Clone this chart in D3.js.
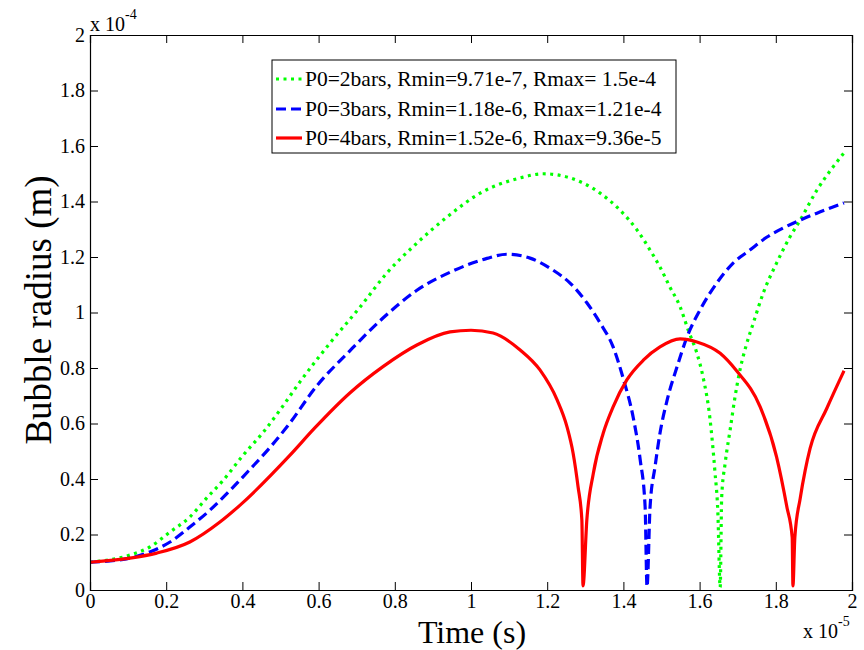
<!DOCTYPE html>
<html>
<head>
<meta charset="utf-8">
<script src="https://cdn.jsdelivr.net/npm/d3@7"></script>
<style>
  html, body { margin: 0; padding: 0; background: #fff; }
  svg { display: block; }
  svg text { font-family: "Liberation Serif", "Times New Roman", serif; }
</style>
</head>
<body>
<svg id="chart" width="864" height="650"></svg>
<script>
// Time in units of 1e-5 s, radius in units of 1e-4 m
const xTicks = [0, 0.2, 0.4, 0.6, 0.8, 1, 1.2, 1.4, 1.6, 1.8, 2];
const yTicks = [0, 0.2, 0.4, 0.6, 0.8, 1, 1.2, 1.4, 1.6, 1.8, 2];

const seriesNames = [
  "P0=2bars, Rmin=9.71e-7, Rmax= 1.5e-4",
  "P0=3bars, Rmin=1.18e-6, Rmax=1.21e-4",
  "P0=4bars, Rmin=1.52e-6, Rmax=9.36e-5"
];

const tGreen = [0, 0.105, 0.157, 0.21, 0.262, 0.306, 0.35, 0.402, 0.455, 0.499, 0.551, 0.63, 0.709, 0.779, 0.858, 0.937, 1.024, 1.129, 1.19, 1.26, 1.339, 1.391, 1.436, 1.47, 1.496, 1.522, 1.549, 1.57, 1.593, 1.609, 1.627, 1.64, 1.648, 1.654, 1.658, 1.667, 1.68, 1.693, 1.706, 1.722, 1.741, 1.767, 1.802, 1.837, 1.864, 1.908, 1.95, 1.979];
const rGreen = [0.10, 0.126, 0.155, 0.209, 0.263, 0.331, 0.396, 0.486, 0.569, 0.649, 0.75, 0.89, 1.02, 1.142, 1.25, 1.344, 1.43, 1.485, 1.5, 1.485, 1.43, 1.369, 1.297, 1.225, 1.164, 1.092, 1.02, 0.937, 0.853, 0.768, 0.62, 0.43, 0.276, 0.0097, 0.336, 0.456, 0.576, 0.696, 0.793, 0.88, 0.962, 1.07, 1.178, 1.272, 1.333, 1.441, 1.524, 1.575];

const tBlue = [0, 0.105, 0.157, 0.21, 0.262, 0.315, 0.367, 0.42, 0.472, 0.517, 0.595, 0.682, 0.769, 0.858, 0.953, 1.042, 1.094, 1.155, 1.215, 1.26, 1.304, 1.339, 1.373, 1.40, 1.426, 1.444, 1.457, 1.462, 1.47, 1.483, 1.496, 1.514, 1.541, 1.567, 1.601, 1.645, 1.688, 1.732, 1.777, 1.819, 1.864, 1.908, 1.95, 1.979];
const rBlue = [0.10, 0.115, 0.137, 0.173, 0.227, 0.288, 0.358, 0.435, 0.513, 0.588, 0.735, 0.862, 0.98, 1.08, 1.15, 1.195, 1.21, 1.196, 1.153, 1.106, 1.035, 0.962, 0.876, 0.76, 0.62, 0.47, 0.3, 0.0118, 0.3, 0.444, 0.565, 0.68, 0.805, 0.912, 1.009, 1.106, 1.178, 1.225, 1.272, 1.304, 1.333, 1.358, 1.38, 1.395];

const tRed = [0, 0.105, 0.175, 0.262, 0.341, 0.394, 0.525, 0.59, 0.682, 0.769, 0.858, 0.945, 1.0, 1.058, 1.129, 1.181, 1.226, 1.252, 1.268, 1.281, 1.291, 1.294, 1.304, 1.321, 1.347, 1.373, 1.409, 1.453, 1.496, 1.549, 1.593, 1.654, 1.697, 1.759, 1.802, 1.829, 1.843, 1.845, 1.85, 1.864, 1.877, 1.89, 1.934, 1.979];
const rRed = [0.10, 0.115, 0.133, 0.173, 0.245, 0.306, 0.486, 0.584, 0.71, 0.805, 0.883, 0.93, 0.936, 0.926, 0.865, 0.793, 0.685, 0.588, 0.493, 0.372, 0.252, 0.0152, 0.252, 0.42, 0.565, 0.66, 0.757, 0.829, 0.876, 0.905, 0.894, 0.853, 0.79, 0.66, 0.48, 0.3, 0.19, 0.0152, 0.19, 0.33, 0.43, 0.51, 0.655, 0.79];

const series = [
  { name: seriesNames[0], t: tGreen, r: rGreen, color: "#00ff00", dash: "3,4.5" },
  { name: seriesNames[1], t: tBlue,  r: rBlue,  color: "#0000ff", dash: "10,5" },
  { name: seriesNames[2], t: tRed,   r: rRed,   color: "#ff0000", dash: null }
];

const svg = d3.select("#chart");
const margin = { left: 90, top: 35, right: 852, bottom: 590 };

const x = d3.scaleLinear().domain([0, 2]).range([margin.left, margin.right]);
const y = d3.scaleLinear().domain([0, 2]).range([margin.bottom, margin.top]);

const fmt = d => (d === 0 ? "0" : d3.format("~g")(d));
const serif = '"Liberation Serif", "Times New Roman", serif';

svg.append("defs").append("clipPath").attr("id", "clip")
  .append("rect").attr("x", margin.left).attr("y", margin.top)
  .attr("width", margin.right - margin.left).attr("height", margin.bottom - margin.top);

const line = d3.line().x(d => x(d[0])).y(d => y(d[1])).curve(d3.curveMonotoneX);

const g = svg.append("g").attr("clip-path", "url(#clip)");
series.forEach(s => {
  const pts = s.t.map((tv, i) => [tv, s.r[i]]);
  g.append("path")
    .attr("d", line(pts))
    .attr("fill", "none")
    .attr("stroke", s.color)
    .attr("stroke-width", 3.2)
    .attr("stroke-dasharray", s.dash)
    .attr("stroke-linejoin", "round");
});

// Axes (MATLAB-style box, inward ticks)
const tickLen = 8;
const axB = svg.append("g").attr("transform", `translate(0,${margin.bottom})`)
  .call(d3.axisBottom(x).tickValues(xTicks).tickSize(-tickLen).tickPadding(4).tickFormat(fmt));
const axT = svg.append("g").attr("transform", `translate(0,${margin.top})`)
  .call(d3.axisTop(x).tickValues(xTicks).tickSize(-tickLen).tickFormat(""));
const axL = svg.append("g").attr("transform", `translate(${margin.left},0)`)
  .call(d3.axisLeft(y).tickValues(yTicks).tickSize(-tickLen).tickPadding(5).tickFormat(fmt));
const axR = svg.append("g").attr("transform", `translate(${margin.right},0)`)
  .call(d3.axisRight(y).tickValues(yTicks).tickSize(-tickLen).tickFormat(""));

[axB, axT, axL, axR].forEach(a => {
  a.attr("font-family", serif).attr("font-size", 20);
  a.select(".domain").attr("stroke", "#000").attr("stroke-width", 1.2);
  a.selectAll(".tick line").attr("stroke", "#000").attr("stroke-width", 1);
  a.selectAll("text").attr("fill", "#000");
});

// Exponent labels
const e1 = svg.append("text").attr("x", 90).attr("y", 31)
  .attr("font-family", serif).attr("font-size", 20).attr("fill", "#000");
e1.append("tspan").text("x 10");
e1.append("tspan").attr("dy", -12).attr("font-size", 14).text("-4");

const e2 = svg.append("text").attr("x", 803).attr("y", 638)
  .attr("font-family", serif).attr("font-size", 20).attr("fill", "#000");
e2.append("tspan").text("x 10");
e2.append("tspan").attr("dy", -12).attr("font-size", 14).text("-5");

// Axis titles
svg.append("text").attr("x", 472).attr("y", 643)
  .attr("text-anchor", "middle").attr("font-family", serif).attr("font-size", 32).attr("fill", "#000")
  .text("Time (s)");
svg.append("text")
  .attr("transform", "translate(51,310) rotate(-90)")
  .attr("text-anchor", "middle").attr("font-family", serif).attr("font-size", 37).attr("fill", "#000")
  .text("Bubble radius (m)");

// Legend
const legend = svg.append("g");
legend.append("rect").attr("x", 272).attr("y", 60).attr("width", 404).attr("height", 93)
  .attr("fill", "#fff").attr("stroke", "#000").attr("stroke-width", 1);
const rowY = [79, 109, 138];
series.forEach((s, i) => {
  legend.append("line")
    .attr("x1", 276).attr("x2", 302).attr("y1", rowY[i]).attr("y2", rowY[i])
    .attr("stroke", s.color).attr("stroke-width", 3.2)
    .attr("stroke-dasharray", s.dash);
  legend.append("text").attr("x", 305).attr("y", rowY[i] + 6.5)
    .attr("font-family", serif).attr("font-size", 21.5).attr("fill", "#000").text(s.name);
});
</script>
</body>
</html>
